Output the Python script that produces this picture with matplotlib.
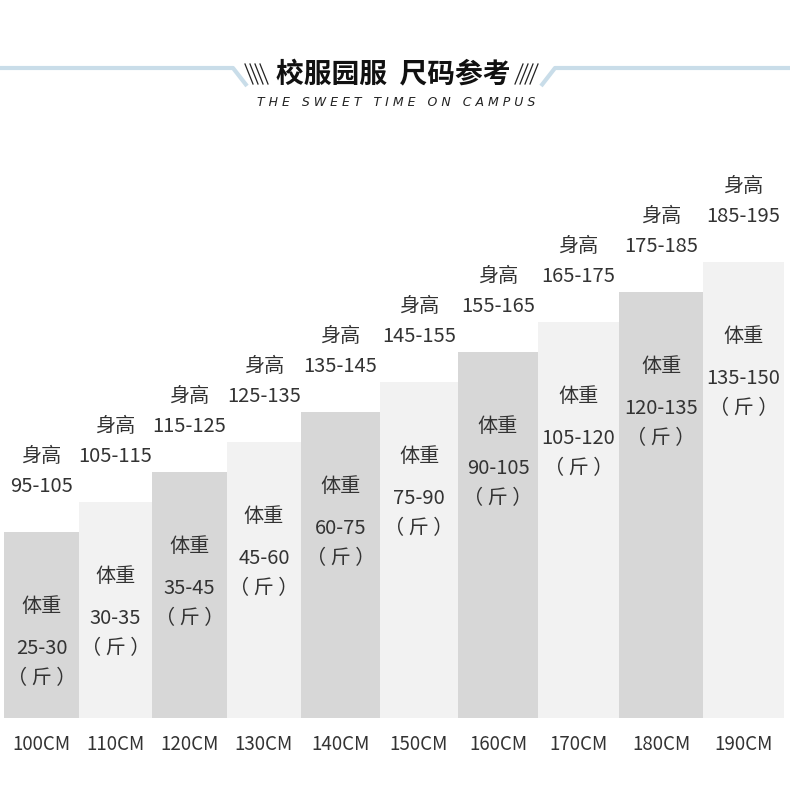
import matplotlib.pyplot as plt
import numpy as np

plt.rcParams['font.family'] = ['Noto Sans CJK SC', 'DejaVu Sans']

# chart data
sizes = np.array([100, 110, 120, 130, 140, 150, 160, 170, 180, 190])
size_labels = [f'{s}CM' for s in sizes]
height_ranges = ['95-105', '105-115', '115-125', '125-135', '135-145',
                 '145-155', '155-165', '165-175', '175-185', '185-195']
weight_ranges = ['25-30', '30-35', '35-45', '45-60', '60-75',
                 '75-90', '90-105', '105-120', '120-135', '135-150']

title = '校服园服  尺码参考'
subtitle = 'THE SWEET TIME ON CAMPUS'

# layout (pixels)
W, H = 790, 802
bar_edges = np.array([4, 79, 152, 227, 301, 380, 458, 538, 619, 703, 784])
dark, light = '#d7d7d7', '#f2f2f2'
text_col = '#333333'
line_col = '#c9dde9'
base = 38  # value at bar baseline

fig = plt.figure(figsize=(W / 100, H / 100), dpi=100)
fig.patch.set_facecolor('white')

# bar axes: baseline at y=718px, 3 px per unit, x in pixels
ax_top_px, ax_bot_px = 160, 718
ax = fig.add_axes([0, (H - ax_bot_px) / H, 1, (ax_bot_px - ax_top_px) / H])
ax.set_xlim(0, W)
ax.set_ylim(base, base + (ax_bot_px - ax_top_px) / 3)
ax.axis('off')

centers = (bar_edges[:-1] + bar_edges[1:]) / 2
widths = np.diff(bar_edges)
colors = [dark if i % 2 == 0 else light for i in range(len(sizes))]
ax.bar(centers, sizes - base, bottom=base, width=widths, color=colors, linewidth=0)

fs = 14.5
kw = dict(ha='center', va='center', fontsize=fs, color=text_col, clip_on=False,
          fontweight='light')
for i, s in enumerate(sizes):
    c = centers[i]
    ax.text(c, s + 25, '身高', **kw)
    ax.text(c, s + 15, height_ranges[i], **kw)
    ax.text(c, s - 25, '体重', **kw)
    ax.text(c, s - 39, weight_ranges[i], **kw)
    ax.text(c, s - 49, '（ 斤 ）', **kw)
    ax.text(c, base - 8.7, size_labels[i], ha='center', va='center', fontsize=13.5,
            color=text_col, clip_on=False, fontweight='light')

# header overlay in pixel coordinates
hx = fig.add_axes([0, 0, 1, 1], facecolor='none')
hx.set_xlim(0, W)
hx.set_ylim(H, 0)
hx.axis('off')

hx.plot([0, 233, 247], [68, 68, 86], color=line_col, lw=3, solid_capstyle='butt')
hx.plot([W, 555, 541], [68, 68, 86], color=line_col, lw=3, solid_capstyle='butt')
for k in range(4):
    x0 = 245 + k * 5
    hx.plot([x0, x0 + 8], [64, 84], color='#222222', lw=0.9)
    x1 = 515 + k * 5
    hx.plot([x1 + 8, x1], [64, 84], color='#222222', lw=0.9)

hx.text(393, 75, title, ha='center', va='center', fontsize=20, fontweight='heavy', color='#111111')
spaced = '   '.join(' '.join(word) for word in subtitle.split())
hx.text(396, 102, spaced, ha='center', va='center',
        fontsize=9, fontstyle='italic', color='#222222', family='DejaVu Sans')

fig.savefig('out.png', dpi=100)
